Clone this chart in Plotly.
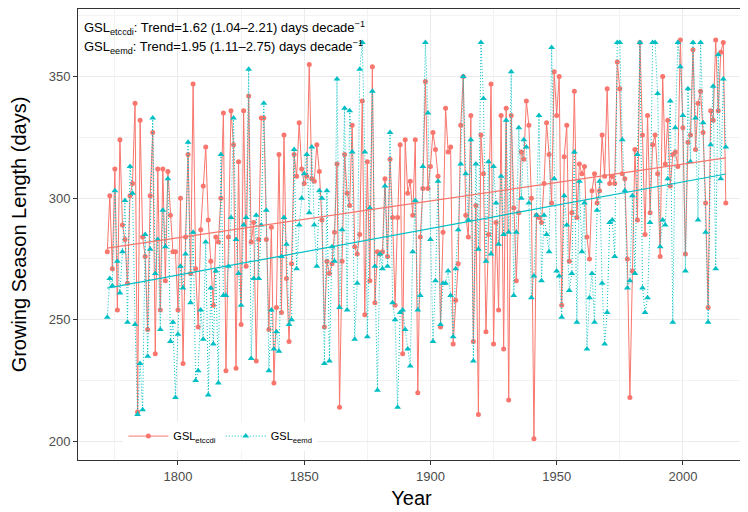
import numpy as np
import plotly.graph_objects as go

years = list(range(1772, 2018))

gsl_etccdi = [
    278, 301, 271, 312, 254, 324, 289, 283, 265, 301, 306, 339, 212, 332,
    284, 276, 246, 301, 327, 236, 312, 254, 312, 266, 311, 293, 278, 278, 254, 300, 232, 284, 318, 269, 347, 271, 247, 287, 305, 321, 291,
    274, 256, 284, 282, 300, 335, 229, 284, 336, 322, 230, 315, 248, 336, 272, 342, 282, 290, 233, 283, 333, 333, 283, 246, 288, 224,
    255, 318, 253, 326, 267, 241, 273, 318, 309, 331, 312, 306, 309, 355, 308, 307, 322, 311, 291, 247, 274, 269, 273, 286, 314, 214,
    274, 318, 302, 297, 330, 280, 277, 285, 340, 252, 315, 266, 354, 257, 278, 277, 278, 308, 276, 316, 292, 256, 292, 322, 236, 324,
    302, 307, 293, 324, 220, 284, 304, 348, 304, 313, 327, 320, 309, 247, 286, 337, 319, 321, 240, 258, 273, 330, 350, 293, 284,
    334, 241, 297, 211, 326, 310, 245, 285, 347, 240, 290, 254, 334, 238, 337, 217, 334, 296, 266, 294, 319, 316, 340, 330, 300, 201,
    293, 292, 290, 306, 331, 318, 298, 352, 334, 350, 256, 317, 330, 274, 294, 344, 292, 314, 310, 313, 284, 275, 303, 310, 298,
    303, 326, 309, 345, 306, 309, 306, 356, 345, 310, 308, 275, 218, 270, 320, 291, 364, 326, 285, 334, 294, 322, 326, 310, 276,
    350, 314, 332, 305, 318, 319, 313, 365, 329, 277, 323, 326, 361, 320, 339, 344, 327, 298, 255, 336, 332, 365, 336, 360, 364, 298,
]

gsl_eemd = [
    251, 267, 264, 303, 274, 261, 278, 299, 249, 313, 302, 248, 211, 232,
    213, 285, 235, 279, 333, 269, 283, 246, 295, 280, 308, 241, 249, 218, 244, 272, 263, 277, 323, 257, 286, 225, 229, 254, 242, 282, 219,
    263, 240, 270, 224, 318, 260, 260, 272, 292, 333, 283, 269, 256, 289, 292, 353, 234, 267, 293, 267, 289, 339, 295,
    229,
    254, 238, 245, 237, 276, 292, 281, 248, 250, 320, 271, 289, 300, 310, 318, 294, 321, 289, 272, 303, 300, 232, 303, 233, 280, 274, 349, 255,
    287, 337, 254, 336, 319, 242, 265, 353, 364, 319, 243, 296, 344, 272, 221, 277, 271, 305, 272, 327, 257, 250, 214, 253, 254,
    246, 238, 231, 278, 299, 254, 260, 313, 364, 335, 283, 241, 266, 307, 248, 265, 265, 270, 260, 243, 271, 287, 314, 350, 310, 291,
    324, 233, 314, 279, 364, 341, 274, 315, 277, 313, 298, 281, 309, 285, 332, 286, 352, 260, 286, 329, 300, 324, 321, 298, 259, 268,
    293, 334, 266, 293, 285, 278, 362, 308, 270, 268, 251, 301, 289, 262, 269, 319, 249, 307, 278, 298, 238, 259, 269, 249, 295,
    307, 265, 240, 253, 290, 291, 276, 364, 364, 324, 303, 263, 266, 301, 269, 318, 364, 263, 253, 259, 290, 364, 364, 343, 280, 291,
    289, 308, 340, 249, 329, 364, 354, 334, 270, 345, 315, 364, 333, 291, 364, 331, 286, 249, 322, 346, 271, 359, 308, 349, 321,
]

series_names = ["GSL<sub>etccdi</sub>", "GSL<sub>eemd</sub>"]
trend_text = [
    "GSL<sub>etccdi</sub>: Trend=1.62 (1.04\u20132.21) days decade<sup>\u22121</sup>",
    "GSL<sub>eemd</sub>: Trend=1.95 (1.11\u20132.75) days decade<sup>\u22121</sup>",
]

RED = "#F8766D"
CYAN = "#00BFC4"

fig = go.Figure()

fig.add_trace(go.Scatter(
    x=years, y=gsl_etccdi, mode="lines+markers", name=series_names[0],
    line=dict(color=RED, width=1),
    marker=dict(symbol="circle", size=5, color=RED),
))
fig.add_trace(go.Scatter(
    x=years, y=gsl_eemd, mode="lines+markers", name=series_names[1],
    line=dict(color=CYAN, width=1, dash="1px,2px"),
    marker=dict(symbol="triangle-up", size=6, color=CYAN),
))

xs = np.array(years, dtype=float)
for vals, col in [(gsl_etccdi, RED), (gsl_eemd, CYAN)]:
    b, a = np.polyfit(xs, np.array(vals, dtype=float), 1)
    ends = [xs[0], xs[-1]]
    fig.add_trace(go.Scatter(
        x=ends, y=[a + b * e for e in ends], mode="lines",
        line=dict(color=col, width=1.2), showlegend=False, hoverinfo="skip",
    ))

for i, t in enumerate(trend_text):
    fig.add_annotation(
        x=0.006, y=[0.958, 0.915][i], xref="paper", yref="paper",
        text=t, showarrow=False, xanchor="left", yanchor="middle",
        font=dict(size=13, color="black"),
    )

axis_common = dict(
    showline=True, linecolor="#333333", linewidth=1, mirror=True,
    ticks="outside", ticklen=4, tickcolor="#333333", tickwidth=1,
    showgrid=True, gridcolor="#EBEBEB", gridwidth=1,
    zeroline=False, automargin=False,
    tickfont=dict(size=13, color="#4D4D4D"),
)

fig.update_xaxes(
    range=[1760.4, 2024.6], tick0=1800, dtick=50,
    minor=dict(dtick=25, showgrid=True, gridcolor="#F3F3F3", gridwidth=0.6, ticks=""),
    title=dict(text="Year", font=dict(size=20, color="black"), standoff=8),
    **axis_common,
)
fig.update_yaxes(
    range=[192.3, 377.8], tick0=200, dtick=50,
    minor=dict(dtick=25, showgrid=True, gridcolor="#F3F3F3", gridwidth=0.6, ticks=""),
    title=dict(text="Growing Season Length (days)", font=dict(size=20, color="black"), standoff=16),
    **axis_common,
)

# the page body adds an 8px offset; figure sized so the panel lands where the reference has it
fig.update_layout(
    width=740, height=504,
    margin=dict(l=70, r=3, t=1, b=52),
    paper_bgcolor="white", plot_bgcolor="white",
    font=dict(family="Liberation Sans, Arial, sans-serif", color="black"),
    legend=dict(
        orientation="h", x=0.068, y=0.053, xanchor="left", yanchor="middle",
        bgcolor="white", font=dict(size=11, color="black"),
        itemwidth=40, tracegroupgap=0,
    ),
)

fig.write_html("out.html")
